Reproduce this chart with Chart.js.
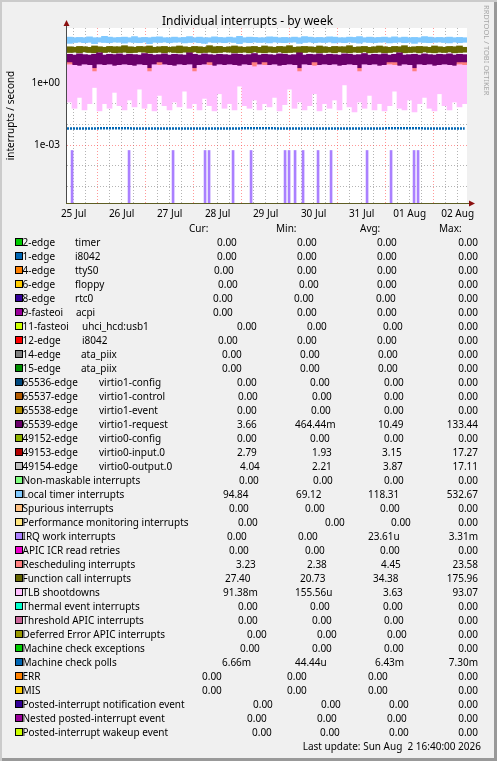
<!DOCTYPE html>
<html>
<head>
<meta charset="utf-8">
<title>Individual interrupts - by week</title>
<script src="https://cdn.jsdelivr.net/npm/chart.js"></script>
<style>
  html, body { margin: 0; padding: 0; background: #f0f0f0; }
  #frame {
    position: absolute; left: 0; top: 0; width: 497px; height: 761px; overflow: hidden;
    background: #f0f0f0; box-shadow: inset 2px 2px 0 #cbcbcb, inset -3px -3px 0 #999999;
    font-family: 'Noto Sans', sans-serif; font-size: 10px; color: #000;
  }
  #chart { position: absolute; left: 0; top: 0; }
  #title { position: absolute; left: 0; top: 13px; width: 495px; text-align: center; font-size: 12px; line-height: 16px; }
  #mark { position: absolute; left: 482px; top: 5px; writing-mode: vertical-rl; font-size: 7.5px; color: #a8a8a8; }
  .t { position: absolute; white-space: pre; line-height: 14px; }
  .box { position: absolute; width: 6px; height: 6px; border: 1px solid #000; z-index: 2; }
</style>
</head>
<body>
<div id="frame">
  <canvas id="chart" width="497" height="225"></canvas>
  <div id="title">Individual interrupts - by week</div>
  <div id="mark">RRDTOOL / TOBI OETIKER</div>
  <div id="legend"></div>
</div>
<script>
// time axis in hours since 25 Jul 00:00, last update Aug 2 16:40
const X_MIN = 8.67;
const X_MAX = 208.67;
const BUCKET_HOURS = 2.5;
const Y_MIN = 1.65e-6;
const Y_MAX = 440;

const dayLabels = ['25 Jul', '26 Jul', '27 Jul', '28 Jul', '29 Jul', '30 Jul', '31 Jul', '01 Aug', '02 Aug'];
const decadeTicks = [1e-5, 1e-4, 1e-3, 1e-2, 1e-1, 1, 10, 100];
const yTickLabels = { '1': '1e+00', '0.001': '1e-03' };

// Local timer interrupts (min / max per bucket)
const timerLo = [80,88,92,86,90,78,92,88,86,92,90,82,92,88,86,92,78,90,88,92,
                 86,90,92,84,88,92,86,80,92,88,90,86,92,88,78,90,86,92,88,90,
                 84,92,88,86,90,92,80,88,92,86,90,88,92,84,90,86,92,88,82,92,
                 88,86,90,92,84,88,92,86,90,80,92,88,86,90,92,88,84,92,86,90];
const timerHi = [160,150,155,150,165,150,150,175,160,150,155,160,150,170,150,155,150,160,165,150,
                 150,160,150,155,170,150,160,150,150,165,155,150,160,150,175,150,160,155,150,150,
                 165,160,150,155,150,160,150,170,160,150,155,150,165,160,150,150,160,155,170,150,
                 160,150,155,160,150,165,150,160,150,155,150,170,160,150,155,150,160,150,155,150];

// Function call interrupts
const funcLo = [29,30,28,31,29,28,30,29,31,28,29,30,28,29,31,30,28,29,30,28,
                31,29,28,30,29,31,28,29,30,28,29,31,30,28,29,30,28,31,29,28,
                30,29,31,28,29,30,28,29,31,30,28,29,30,28,31,29,28,30,29,31,
                28,29,30,28,29,31,30,28,29,30,28,31,29,28,30,29,31,28,29,30];
const funcHi = [55,52,57,55,52,60,55,52,57,55,55,62,55,52,57,55,60,52,55,57,
                52,55,60,55,52,57,55,52,62,55,57,52,55,60,55,52,55,57,52,60,
                55,52,57,55,62,52,55,57,55,52,60,55,52,57,55,55,62,52,55,57,
                52,55,60,55,52,57,55,62,52,55,57,55,52,60,55,52,57,55,60,52];

// 65539-edge virtio1-request
const virtioLo = [4.5,4.5,4.5,4.5,4.5,2.5,4.5,4.5,4.5,4.5,4.5,4.5,4.5,4.5,4.5,4.5,2.5,4.5,4.5,4.5,
                  4.5,4.5,4.5,4.5,4.5,2.5,4.5,4.5,4.5,4.5,4.5,4.5,4.5,4.5,4.5,4.5,4.5,4.5,4.5,4.5,
                  4.5,4.5,4.5,4.5,4.5,4.5,2.5,4.5,4.5,4.5,4.5,4.5,4.5,4.5,4.5,4.5,4.5,4.5,2.5,4.5,
                  4.5,4.5,4.5,4.5,4.5,4.5,4.5,4.5,4.5,2.5,4.5,4.5,4.5,4.5,4.5,4.5,4.5,4.5,4.5,4.5];
const virtioHi = [24,22,25,23,22,24,28,22,24,23,25,22,24,23,22,26,24,22,23,25,
                  22,24,23,22,28,24,22,25,23,22,24,23,22,25,24,22,23,26,22,24,
                  23,22,25,24,22,23,28,22,24,23,25,22,24,23,22,25,24,22,23,26,
                  22,24,23,25,22,24,28,22,23,24,22,25,23,22,24,23,25,22,24,23];

// Rescheduling interrupts
const reschedLo = [3.2,3.2,3.2,3.2,3.2,3.2,3.2,3.2,3.2,3.2,3.2,3.2,3.2,3.2,3.2,3.2,3.2,3.2,3.2,3.2,
                   3.2,3.2,3.2,3.2,3.2,3.2,3.2,3.2,3.2,3.2,3.2,3.2,3.2,3.2,3.2,3.2,3.2,3.2,3.2,3.2,
                   3.2,3.2,3.2,3.2,3.2,3.2,3.2,3.2,3.2,3.2,3.2,3.2,3.2,3.2,3.2,3.2,3.2,3.2,3.2,3.2,
                   3.2,3.2,3.2,3.2,3.2,3.2,3.2,3.2,3.2,3.2,3.2,3.2,3.2,3.2,3.2,3.2,3.2,3.2,3.2,3.2];
const reschedHi = [9.5,5,5,5,5,5,5,5,5,5,5,5,5,5,5,5,5,5,9.5,5,
                   5,5,5,5,5,5,5,5,9.5,5,5,5,5,5,5,5,5,9.5,5,9.5,
                   5,5,5,5,5,5,5,5,5,9.5,5,5,5,5,5,5,5,5,5,5,
                   5,5,5,5,9.5,9.5,5,5,5,5,5,5,5,5,5,5,5,5,9.5,9.5];

// TLB shootdowns
const tlbLo = [0.12,0.06,0.2,0.05,0.1,0.6,0.045,0.1,0.06,0.35,0.08,0.05,0.15,0.07,0.5,0.06,0.1,0.045,0.25,0.08,
               0.05,0.12,0.07,0.4,0.06,0.1,0.05,0.18,0.08,0.045,0.3,0.06,0.1,0.05,0.7,0.08,0.06,0.15,0.05,0.1,
               0.07,0.2,0.045,0.09,0.5,0.06,0.12,0.05,0.08,0.3,0.045,0.1,0.06,0.15,0.05,0.8,0.07,0.04,0.12,0.06,
               0.25,0.05,0.1,0.045,0.08,0.4,0.06,0.05,0.15,0.04,0.1,0.2,0.06,0.045,0.3,0.08,0.05,0.12,0.07,0.1];
const tlbHi = [7.5,7,6.5,7.5,7,3.5,7.5,7,7.5,6.5,7,7.5,7,6.5,7.5,7,3.5,7.5,7,7.5,
               7,6.5,7.5,7,7.5,3.5,7,7.5,7,6.5,7.5,7,7.5,7,6.5,7.5,7,6,7.5,7,
               7,7.5,6.5,7,7.5,7,3.5,7.5,7,6.5,7,7.5,7,7.5,6.5,7,7.5,7,3.5,7.5,
               7,7.5,6.5,7,7.5,7,6.5,7.5,7,3.5,7.5,7,7.5,6.5,7,7.5,7,6.5,7.5,7];

// IRQ work interrupts: single events
const irqWorkHours = [11.2, 39.7, 61.7, 77.7, 79.7, 91.7, 100.7, 117.7, 119.7, 122.7, 126.7, 134.2, 140.7, 158.7, 170.7, 182.2, 184.2];
const irqWorkValues = [5.56e-4, 5.56e-4, 5.56e-4, 5.56e-4, 5.56e-4, 5.56e-4, 5.56e-4, 5.56e-4, 5.56e-4,
                       5.56e-4, 5.56e-4, 5.56e-4, 5.56e-4, 5.56e-4, 5.56e-4, 5.56e-4, 5.56e-4];

// Machine check polls
const mcpHours = [8.67, 32, 56, 80, 104, 128, 152, 176, 207.5];
const mcpValues = [6.4e-3, 6.5e-3, 6.4e-3, 6.4e-3, 6.5e-3, 6.4e-3, 6.4e-3, 6.5e-3, 6.4e-3];

// legend table
const irqNames = ['2-edge', '1-edge', '4-edge', '6-edge', '8-edge', '9-fasteoi', '11-fasteoi', '12-edge', '14-edge', '15-edge',
  '65536-edge', '65537-edge', '65538-edge', '65539-edge', '49152-edge', '49153-edge', '49154-edge',
  'Non-maskable interrupts', 'Local timer interrupts', 'Spurious interrupts', 'Performance monitoring interrupts',
  'IRQ work interrupts', 'APIC ICR read retries', 'Rescheduling interrupts', 'Function call interrupts', 'TLB shootdowns',
  'Thermal event interrupts', 'Threshold APIC interrupts', 'Deferred Error APIC interrupts', 'Machine check exceptions',
  'Machine check polls', 'ERR', 'MIS', 'Posted-interrupt notification event', 'Nested posted-interrupt event',
  'Posted-interrupt wakeup event'];
const irqDevices = ['timer', 'i8042', 'ttyS0', 'floppy', 'rtc0', 'acpi', 'uhci_hcd:usb1', 'i8042', 'ata_piix', 'ata_piix',
  'virtio1-config', 'virtio1-control', 'virtio1-event', 'virtio1-request', 'virtio0-config', 'virtio0-input.0', 'virtio0-output.0'];
const curText = ['0.00','0.00','0.00','0.00','0.00','0.00','0.00','0.00','0.00','0.00','0.00','0.00','0.00','3.66','0.00','2.79','4.04',
  '0.00','94.84','0.00','0.00','0.00','0.00','3.23','27.40','91.38m','0.00','0.00','0.00','0.00','6.66m','0.00','0.00','0.00','0.00','0.00'];
const minText = ['0.00','0.00','0.00','0.00','0.00','0.00','0.00','0.00','0.00','0.00','0.00','0.00','0.00','464.44m','0.00','1.93','2.21',
  '0.00','69.12','0.00','0.00','0.00','0.00','2.38','20.73','155.56u','0.00','0.00','0.00','0.00','44.44u','0.00','0.00','0.00','0.00','0.00'];
const avgText = ['0.00','0.00','0.00','0.00','0.00','0.00','0.00','0.00','0.00','0.00','0.00','0.00','0.00','10.49','0.00','3.15','3.87',
  '0.00','118.31','0.00','0.00','23.61u','0.00','4.45','34.38','3.63','0.00','0.00','0.00','0.00','6.43m','0.00','0.00','0.00','0.00','0.00'];
const maxText = ['0.00','0.00','0.00','0.00','0.00','0.00','0.00','0.00','0.00','0.00','0.00','0.00','0.00','133.44','0.00','17.27','17.11',
  '0.00','532.67','0.00','0.00','3.31m','0.00','23.58','175.96','93.07','0.00','0.00','0.00','0.00','7.30m','0.00','0.00','0.00','0.00','0.00'];

// styles and text positions (kept apart from the data)
const seriesColors = ['#00CC00','#0066B3','#FF8000','#FFCC00','#330099','#990099','#CCFF00','#FF0000','#808080','#008F00',
  '#00487D','#B35A00','#B38F00','#6B006B','#8FB300','#B30000','#BEBEBE','#80FF80','#80C9FF','#FFC080','#FFE680',
  '#AA80FF','#EE00CC','#FF8080','#666600','#FFBFFF','#00FFCC','#CC6699','#999900','#00CC00','#0066B3','#FF8000',
  '#FFCC00','#330099','#990099','#CCFF00'];
const deviceX = [75,75,75,75,75,76,82,82,81,81,99,99,99,99,99,99,99];
const curX = [217,217,214,218,213,213,237,218,222,222,237,238,237,237,237,237,240,239,223,229,238,227,229,236,225,223,
  238,238,247,240,222,202,202,253,247,252];
const minX = [297,297,297,299,294,297,307,297,300,300,310,312,311,295,310,312,312,313,296,305,325,298,305,307,300,295,
  310,312,317,312,295,287,287,321,317,320];
const avgX = [377,377,377,377,376,377,383,377,378,378,384,384,384,378,384,382,383,384,368,380,391,368,380,381,373,383,
  383,384,387,384,375,368,368,389,387,389];

const MAJOR_GRID = 'rgba(255, 70, 70, 0.55)';
const MINOR_GRID = 'rgba(130, 130, 130, 0.6)';

Chart.defaults.font.family = "'Noto Sans', sans-serif";
Chart.defaults.font.size = 10;
Chart.defaults.color = '#000';

const bandHours = timerLo.map((_, i) => X_MIN + BUCKET_HOURS * (i + 0.5));
const band = (lo, hi) => bandHours.map((h, i) => ({ x: h, y: [lo[i], hi[i]] }));
const gridHours = [];
for (let h = 12; h < X_MAX; h += 6) gridHours.push(h);

function bandSet(label, lo, hi, color, order, thickness) {
  return {
    label: label, data: band(lo, hi), backgroundColor: color, borderWidth: 0,
    barThickness: thickness, grouped: false, order: order
  };
}

const plotBackground = {
  id: 'plotBackground',
  beforeDraw(chart) {
    const { ctx, chartArea: a } = chart;
    ctx.save();
    ctx.fillStyle = '#ffffff';
    ctx.fillRect(a.left, a.top, a.right - a.left, a.bottom - a.top);
    ctx.restore();
  }
};

const axisArrows = {
  id: 'axisArrows',
  afterDraw(chart) {
    const { ctx, chartArea: a } = chart;
    ctx.save();
    ctx.lineWidth = 1;
    ctx.strokeStyle = '#4a4a4a';
    ctx.beginPath();
    ctx.moveTo(a.left - 0.5, a.bottom + 1);
    ctx.lineTo(a.left - 0.5, a.top - 3);
    ctx.stroke();
    ctx.strokeStyle = '#5e5e24';
    ctx.beginPath();
    ctx.moveTo(a.left - 1, a.bottom + 0.5);
    ctx.lineTo(a.right + 3, a.bottom + 0.5);
    ctx.stroke();
    ctx.fillStyle = '#8b1010';
    ctx.beginPath();
    ctx.moveTo(a.left - 3.5, a.top - 2);
    ctx.lineTo(a.left + 2.5, a.top - 2);
    ctx.lineTo(a.left - 0.5, a.top - 8);
    ctx.closePath();
    ctx.fill();
    ctx.beginPath();
    ctx.moveTo(a.right + 2, a.bottom - 2.5);
    ctx.lineTo(a.right + 2, a.bottom + 3.5);
    ctx.lineTo(a.right + 8, a.bottom + 0.5);
    ctx.closePath();
    ctx.fill();
    ctx.restore();
  }
};

new Chart(document.getElementById('chart').getContext('2d'), {
  type: 'bar',
  data: {
    datasets: [
      {
        type: 'line', label: 'Machine check polls', order: 0,
        data: mcpHours.map((h, i) => ({ x: h, y: mcpValues[i] })),
        borderColor: '#0066B3', borderWidth: 2.5, borderDash: [2, 1], pointRadius: 0, fill: false
      },
      bandSet('TLB shootdowns', tlbLo, tlbHi, '#FFBFFF', 1, 5),
      bandSet('Rescheduling interrupts', reschedLo, reschedHi, '#FF8080', 2, 5),
      bandSet('65539-edge virtio1-request', virtioLo, virtioHi, '#6B006B', 3, 6),
      bandSet('Function call interrupts', funcLo, funcHi, '#666600', 4, 6),
      bandSet('Local timer interrupts', timerLo, timerHi, '#80C9FF', 5, 6),
      {
        label: 'IRQ work interrupts', order: 6,
        data: irqWorkHours.map((h, i) => ({ x: h, y: [Y_MIN, irqWorkValues[i]] })),
        backgroundColor: '#AA80FF', borderWidth: 0, barThickness: 2, grouped: false
      }
    ]
  },
  options: {
    responsive: false,
    animation: false,
    layout: { padding: { top: 28, right: 30, left: 0, bottom: 0 } },
    plugins: { legend: { display: false }, tooltip: { enabled: false } },
    scales: {
      x: {
        type: 'linear', min: X_MIN, max: X_MAX, offset: false, z: 1,
        afterBuildTicks: axis => { axis.ticks = gridHours.map(v => ({ value: v })); },
        afterFit: axis => { axis.height = 22; },
        ticks: {
          autoSkip: false, maxRotation: 0, padding: 5,
          callback: v => ((v - 12) % 24 === 0 ? dayLabels[(v - 12) / 24] : '')
        },
        grid: {
          offset: false, drawTicks: false, lineWidth: 1,
          color: c => (c.tick && c.tick.value % 24 === 0 ? MAJOR_GRID : MINOR_GRID)
        },
        border: { display: false, dash: [1, 2] }
      },
      y: {
        type: 'logarithmic', min: Y_MIN, max: Y_MAX, z: 1,
        afterBuildTicks: axis => { axis.ticks = decadeTicks.map(v => ({ value: v })); },
        afterFit: axis => { axis.width = 67; },
        ticks: { padding: 7, callback: v => yTickLabels[String(v)] || '' },
        grid: {
          drawTicks: false, lineWidth: 1,
          color: c => (c.tick && yTickLabels[String(c.tick.value)] ? MAJOR_GRID : MINOR_GRID)
        },
        border: { display: false, dash: [1, 2] },
        title: { display: true, text: 'interrupts / second', padding: { top: 5, bottom: 0 } }
      }
    }
  },
  plugins: [plotBackground, axisArrows]
});

// legend table as text
const legend = document.getElementById('legend');
function addText(text, x, y, rightEdge) {
  const d = document.createElement('div');
  d.className = 't';
  d.textContent = text;
  d.style.top = y + 'px';
  if (rightEdge) d.style.right = (497 - x) + 'px';
  else d.style.left = x + 'px';
  legend.appendChild(d);
}
addText('Cur:', 189, 221);
addText('Min:', 276, 221);
addText('Avg:', 360, 221);
addText('Max:', 439, 221);
irqNames.forEach((name, i) => {
  const y = 235 + 14 * i;
  const box = document.createElement('div');
  box.className = 'box';
  box.style.left = '15px';
  box.style.top = (238 + 14 * i) + 'px';
  box.style.background = seriesColors[i];
  legend.appendChild(box);
  addText(name, 22.5, y);
  if (irqDevices[i]) addText(irqDevices[i], deviceX[i], y);
  addText(curText[i], curX[i], y);
  addText(minText[i], minX[i], y);
  addText(avgText[i], avgX[i], y);
  addText(maxText[i], 478, y, true);
});
addText('Last update: Sun Aug  2 16:40:00 2026', 481, 739, true);
</script>
</body>
</html>
